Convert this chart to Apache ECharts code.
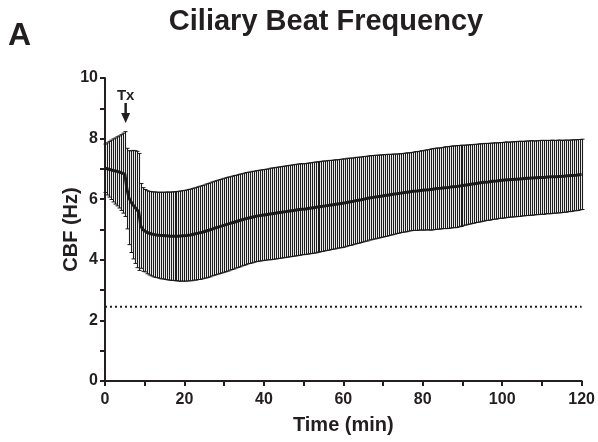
<!DOCTYPE html>
<html>
<head>
<meta charset="utf-8">
<script src="https://cdn.jsdelivr.net/npm/echarts@6/dist/echarts.min.js"></script>
<style>
html,body{margin:0;padding:0;background:#fff;}
#chart{width:598px;height:442px;}
</style>
</head>
<body>
<div id="chart"></div>
<script>
// ---- data ----
const sampleStep = 0.5; // minutes between recordings
const cbfMean = [
  7.02, 7.00, 6.99, 6.97, 6.95, 6.93, 6.92, 6.90, 6.88, 6.86, 6.83, 6.35, 6.05, 5.92, 5.82, 5.74, 5.66, 5.58, 5.12, 5.00,
  4.96, 4.91, 4.88, 4.86, 4.84, 4.83, 4.82, 4.81, 4.80, 4.80, 4.79, 4.79, 4.78, 4.78, 4.78, 4.78, 4.78, 4.78, 4.78, 4.79,
  4.79, 4.80, 4.81, 4.82, 4.83, 4.85, 4.86, 4.88, 4.89, 4.91, 4.93, 4.95, 4.97, 4.99, 5.02, 5.04, 5.06, 5.08, 5.10, 5.12,
  5.14, 5.16, 5.18, 5.20, 5.22, 5.24, 5.26, 5.28, 5.30, 5.32, 5.34, 5.36, 5.38, 5.39, 5.41, 5.42, 5.44, 5.45, 5.46, 5.47,
  5.48, 5.49, 5.50, 5.51, 5.52, 5.53, 5.54, 5.55, 5.56, 5.57, 5.58, 5.59, 5.60, 5.61, 5.62, 5.63, 5.64, 5.65, 5.66, 5.67,
  5.67, 5.68, 5.69, 5.70, 5.71, 5.72, 5.73, 5.74, 5.75, 5.76, 5.77, 5.78, 5.79, 5.80, 5.81, 5.82, 5.83, 5.84, 5.85, 5.86,
  5.87, 5.88, 5.90, 5.91, 5.92, 5.93, 5.95, 5.96, 5.97, 5.98, 6.00, 6.01, 6.02, 6.04, 6.05, 6.06, 6.07, 6.08, 6.09, 6.10,
  6.11, 6.12, 6.13, 6.14, 6.15, 6.16, 6.17, 6.18, 6.19, 6.20, 6.21, 6.22, 6.23, 6.24, 6.25, 6.26, 6.27, 6.27, 6.28, 6.29,
  6.29, 6.30, 6.31, 6.31, 6.32, 6.33, 6.34, 6.35, 6.35, 6.36, 6.37, 6.38, 6.38, 6.39, 6.40, 6.41, 6.41, 6.42, 6.43, 6.44,
  6.45, 6.46, 6.47, 6.48, 6.49, 6.50, 6.51, 6.52, 6.53, 6.54, 6.55, 6.56, 6.57, 6.57, 6.58, 6.59, 6.60, 6.60, 6.61, 6.62,
  6.62, 6.63, 6.64, 6.64, 6.65, 6.65, 6.66, 6.66, 6.67, 6.67, 6.68, 6.68, 6.69, 6.69, 6.70, 6.70, 6.70, 6.71, 6.71, 6.72,
  6.72, 6.72, 6.73, 6.73, 6.73, 6.74, 6.74, 6.74, 6.75, 6.75, 6.75, 6.76, 6.76, 6.77, 6.77, 6.78, 6.79, 6.79, 6.80, 6.81, 6.82
];
const cbfSD = [
  0.80, 0.86, 0.92, 0.98, 1.04, 1.09, 1.14, 1.19, 1.25, 1.32, 1.40, 1.33, 1.55, 1.68, 1.79, 1.86, 1.92, 1.93, 1.40, 1.38,
  1.36, 1.37, 1.38, 1.39, 1.40, 1.41, 1.41, 1.42, 1.43, 1.43, 1.44, 1.45, 1.45, 1.46, 1.46, 1.47, 1.47, 1.48, 1.49, 1.49,
  1.50, 1.50, 1.51, 1.51, 1.52, 1.52, 1.53, 1.53, 1.54, 1.54, 1.54, 1.55, 1.55, 1.55, 1.55, 1.55, 1.55, 1.55, 1.55, 1.55,
  1.55, 1.55, 1.55, 1.54, 1.54, 1.54, 1.53, 1.53, 1.53, 1.52, 1.52, 1.52, 1.51, 1.51, 1.51, 1.50, 1.50, 1.50, 1.50, 1.50,
  1.50, 1.50, 1.50, 1.51, 1.51, 1.51, 1.51, 1.51, 1.51, 1.51, 1.51, 1.51, 1.51, 1.51, 1.51, 1.51, 1.51, 1.51, 1.51, 1.50,
  1.50, 1.50, 1.50, 1.50, 1.50, 1.50, 1.50, 1.49, 1.49, 1.49, 1.49, 1.48, 1.48, 1.48, 1.47, 1.47, 1.47, 1.46, 1.46, 1.46,
  1.46, 1.45, 1.45, 1.44, 1.44, 1.43, 1.43, 1.42, 1.42, 1.41, 1.41, 1.40, 1.40, 1.39, 1.39, 1.38, 1.38, 1.37, 1.37, 1.36,
  1.36, 1.35, 1.35, 1.34, 1.33, 1.33, 1.32, 1.31, 1.31, 1.30, 1.30, 1.30, 1.30, 1.29, 1.29, 1.29, 1.30, 1.30, 1.30, 1.31,
  1.31, 1.32, 1.32, 1.33, 1.34, 1.34, 1.34, 1.34, 1.34, 1.34, 1.34, 1.35, 1.35, 1.35, 1.35, 1.35, 1.35, 1.35, 1.34, 1.34,
  1.33, 1.32, 1.32, 1.31, 1.31, 1.30, 1.30, 1.29, 1.29, 1.29, 1.28, 1.28, 1.27, 1.27, 1.27, 1.26, 1.26, 1.26, 1.25, 1.25,
  1.25, 1.25, 1.25, 1.24, 1.24, 1.24, 1.24, 1.24, 1.24, 1.24, 1.23, 1.23, 1.23, 1.23, 1.23, 1.23, 1.22, 1.22, 1.22, 1.22,
  1.22, 1.22, 1.21, 1.21, 1.21, 1.21, 1.20, 1.20, 1.20, 1.20, 1.19, 1.19, 1.19, 1.18, 1.18, 1.18, 1.17, 1.17, 1.17, 1.16, 1.16
];
const baselineCBF = 2.45;      // dotted reference level (Hz)
const baselineSpan = [0, 120]; // minutes
const txTime = 5.2;            // treatment time (min)
const titleText = 'Ciliary Beat Frequency';
const panelLabel = 'A';
const xName = 'Time (min)';
const yName = 'CBF (Hz)';

// ---- build ----
const times = cbfMean.map((_, i) => i * sampleStep);
const meanData = cbfMean.map((m, i) => [times[i], m]);
const barData = cbfMean.map((m, i) => [times[i], m, cbfSD[i]]);
const baseData = baselineSpan.map(t => [t, baselineCBF]);

const FONT = '"Liberation Sans", Arial, Helvetica, sans-serif';
const INK = '#231f20';

const chart = echarts.init(document.getElementById('chart'), null, {renderer: 'canvas'});
chart.setOption({
  animation: false,
  backgroundColor: '#ffffff',
  grid: {left: 105, right: 16, top: 78, bottom: 61, containLabel: false},
  graphic: [
    {type: 'text', left: 8, top: 20, style: {text: panelLabel, font: 'bold 32px ' + FONT, fill: INK}},
    {type: 'text', x: 326, y: 7, style: {text: titleText, font: 'bold 29px ' + FONT, fill: INK, textAlign: 'center', textVerticalAlign: 'top'}}
  ],
  xAxis: {
    type: 'value', min: 0, max: 120, interval: 20,
    name: xName, nameLocation: 'middle', nameGap: 34, nameMoveOverlap: false,
    nameTextStyle: {fontFamily: FONT, fontWeight: 'bold', fontSize: 20, color: INK},
    axisLine: {lineStyle: {color: INK, width: 2}},
    axisTick: {show: true, length: 5, lineStyle: {color: INK, width: 2}},
    minorTick: {show: true, splitNumber: 2, length: 5, lineStyle: {color: INK, width: 2}},
    splitLine: {show: false},
    axisLabel: {fontFamily: FONT, fontWeight: 'bold', fontSize: 16, color: INK, margin: 11}
  },
  yAxis: {
    type: 'value', min: 0, max: 10, interval: 2,
    name: yName, nameLocation: 'middle', nameGap: 24, nameRotate: 90, nameMoveOverlap: false,
    nameTextStyle: {fontFamily: FONT, fontWeight: 'bold', fontSize: 20, color: INK},
    axisLine: {show: true, lineStyle: {color: INK, width: 2}},
    axisTick: {show: true, length: 5, lineStyle: {color: INK, width: 2}},
    minorTick: {show: true, splitNumber: 2, length: 5, lineStyle: {color: INK, width: 2}},
    splitLine: {show: false},
    axisLabel: {fontFamily: FONT, fontWeight: 'bold', fontSize: 16, color: INK, margin: 7}
  },
  series: [
    {
      type: 'custom',
      name: 'SD',
      data: barData,
      encode: {x: 0, y: 1},
      z: 2,
      renderItem: function (params, api) {
        const t = api.value(0), m = api.value(1), s = api.value(2);
        const hi = api.coord([t, m + s]);
        const lo = api.coord([t, m - s]);
        const x = Math.round(hi[0]) + 0.5;
        const c = '#1a1a1a';
        return {
          type: 'group',
          children: [
            {type: 'line', shape: {x1: x, y1: hi[1], x2: x, y2: lo[1]}, style: {stroke: '#1c1c1c', lineWidth: 1.1}},
            {type: 'line', shape: {x1: x - 2, y1: hi[1], x2: x + 2, y2: hi[1]}, style: {stroke: c, lineWidth: 1}},
            {type: 'line', shape: {x1: x - 2, y1: lo[1], x2: x + 2, y2: lo[1]}, style: {stroke: c, lineWidth: 1}}
          ]
        };
      }
    },
    {
      type: 'line',
      name: 'Mean',
      data: meanData,
      showSymbol: false,
      symbol: 'none',
      z: 3,
      lineStyle: {color: '#1a1a1a', width: 3}
    },
    {
      type: 'line',
      name: 'Baseline',
      data: baseData,
      showSymbol: false,
      symbol: 'none',
      z: 3,
      lineStyle: {color: INK, width: 2, type: [2, 3]}
    },
    {
      type: 'custom',
      name: 'Tx',
      data: [[txTime, 10]],
      encode: {x: 0, y: 1},
      clip: false,
      z: 4,
      renderItem: function (params, api) {
        const p = api.coord([api.value(0), api.value(1)]);
        const x = p[0], y0 = p[1];
        return {
          type: 'group',
          children: [
            {type: 'text', style: {x: x, y: y0 + 18, text: 'Tx', font: 'bold 15px ' + FONT, fill: INK, textAlign: 'center', textVerticalAlign: 'middle'}},
            {type: 'line', shape: {x1: x, y1: y0 + 25, x2: x, y2: y0 + 36}, style: {stroke: INK, lineWidth: 2.5}},
            {type: 'polygon', shape: {points: [[x - 4.5, y0 + 35], [x + 4.5, y0 + 35], [x, y0 + 45]]}, style: {fill: INK}}
          ]
        };
      }
    }
  ]
});
</script>
</body>
</html>
